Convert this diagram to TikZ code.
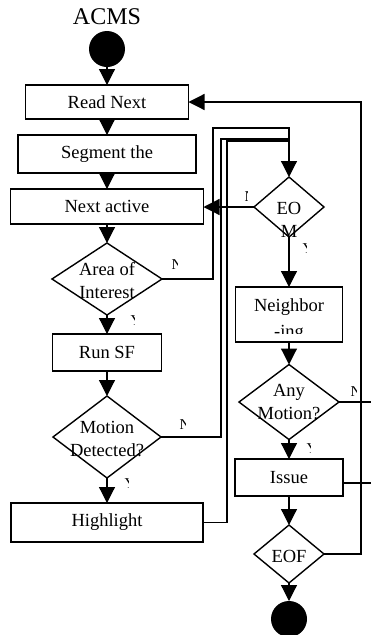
\documentclass[tikz,border=0pt]{standalone}
\usepackage{fontspec}
\setmainfont{Liberation Serif}
\usetikzlibrary{shapes.geometric,arrows.meta}
\newcommand\plbl[5]{\begin{scope}\clip (#2,#3-9) rectangle (#2+#4,#3+9); \node[lbl] (#1) at (#2,#3) {#5};\end{scope}}
\begin{document}
\begin{tikzpicture}[x=1pt,y=-1pt,
  line width=1.2pt,
  box/.style={draw, rectangle, inner sep=0, outer sep=0, line width=1.4pt, font=\fontsize{18.5}{23}\selectfont, align=center},
  dia/.style={draw, diamond, inner sep=0, outer sep=0, line width=1.4pt},
  txt/.style={font=\fontsize{18.5}{23}\selectfont, align=center, inner sep=0},
  lbl/.style={font=\fontsize{15}{15}\selectfont, inner sep=0, anchor=west},
  arr/.style={-{Triangle[length=16pt,width=16pt]}},
  dot/.style={circle, fill=black, inner sep=0, minimum size=36pt, outer sep=0}]
\useasboundingbox (0,0) rectangle (371,635);
% left column
\node[inner sep=0, font=\fontsize{24}{24}\selectfont] (title) at (107,17) {ACMS};
\node[dot] (start) at (107,49) {};
\node[box, minimum width=163pt, minimum height=34pt] (rn) at (107,102) {Read Next};
\node[box, minimum width=178pt, minimum height=38pt] (seg) at (107,154) {Segment the};
\node[box, minimum width=193pt, minimum height=35pt] (na) at (107,206.5) {Next active};
\node[dia, minimum width=110pt, minimum height=72pt] (aoi) at (107,279) {};
\node[txt] (aoit) at (107,280.5) {Area of\\Interest};
\node[box, minimum width=109pt, minimum height=37pt] (run) at (107,352.5) {Run SF};
\node[dia, minimum width=108pt, minimum height=82pt] (md) at (107,437) {};
\node[txt] (mdt) at (107,439.5) {Motion\\Detected?};
\node[box, minimum width=192pt, minimum height=39pt] (hl) at (107,522.5) {Highlight};
% right column
\node[dia, minimum width=70pt, minimum height=60pt] (eom) at (289,207) {};
\node[txt] (eomt) at (289,220) {EO\\M};
\node[box, minimum width=107pt, minimum height=55pt] (nb) at (289,314.5) {};
\node[txt] (nbt) at (289,307) {Neighbor};
\begin{scope}\clip (236,321) rectangle (343,333);
\node[txt, anchor=base] (nbt2) at (289,337) {-ing};
\end{scope}
\node[dia, minimum width=100pt, minimum height=75pt] (am) at (289,402) {};
\node[txt] (amt) at (289,402.5) {Any\\Motion?};
\node[box, minimum width=108pt, minimum height=37pt] (iss) at (289,477.5) {Issue};
\node[dia, minimum width=70pt, minimum height=58pt] (eof) at (289,554) {};
\node[txt] (eoft) at (289,556) {EOF};
\node[dot] (end) at (289,619) {};
% helper coordinates
\coordinate (rx) at (361,0);
\coordinate (edge) at (371,0);
\coordinate (c1) at (213,128);
\coordinate (c2) at (221,139);
\coordinate (c3) at (227,141);
% main flow
\draw[arr] (start) -- (rn);
\draw[arr] (rn) -- (seg);
\draw[arr] (seg) -- (na);
\draw[arr] (na) -- (aoi);
\draw[arr] (aoi) -- (run);
\draw[arr] (run) -- (md);
\draw[arr] (md) -- (hl);
\draw[arr] (eom) -- (nb);
\draw[arr] (nb) -- (am);
\draw[arr] (am) -- (iss);
\draw[arr] (iss) -- (eof);
\draw[arr] (eof) -- (end);
% loops
\draw[arr] (eof.east) -- (eof.east -| rx) |- (rn.east);
\draw (am.east) -- (am.east -| edge);
\draw ([yshift=-5.5pt]iss.east) -- ([yshift=-5.5pt]iss.east -| edge);
\draw[arr] (aoi.east) -| (c1) -| (eom.north);
\draw (md.east) -| (c2) -- (c2 -| eom.north);
\draw (hl.east) -| (c3) -- (c3 -| eom.north);
\draw[arr] (eom.west) -- (eom.west -| na.east);
% labels
\plbl{n1}{171}{265}{6}{N}
\plbl{y1}{130}{321}{4}{Y}
\plbl{n2}{179}{425}{6}{N}
\plbl{y2}{124}{484}{4}{Y}
\plbl{n3}{244}{197}{3.5}{N}
\plbl{y3}{302}{249}{4}{Y}
\plbl{n4}{350}{392}{6}{N}
\plbl{y4}{306}{449}{4}{Y}
\end{tikzpicture}
\end{document}
